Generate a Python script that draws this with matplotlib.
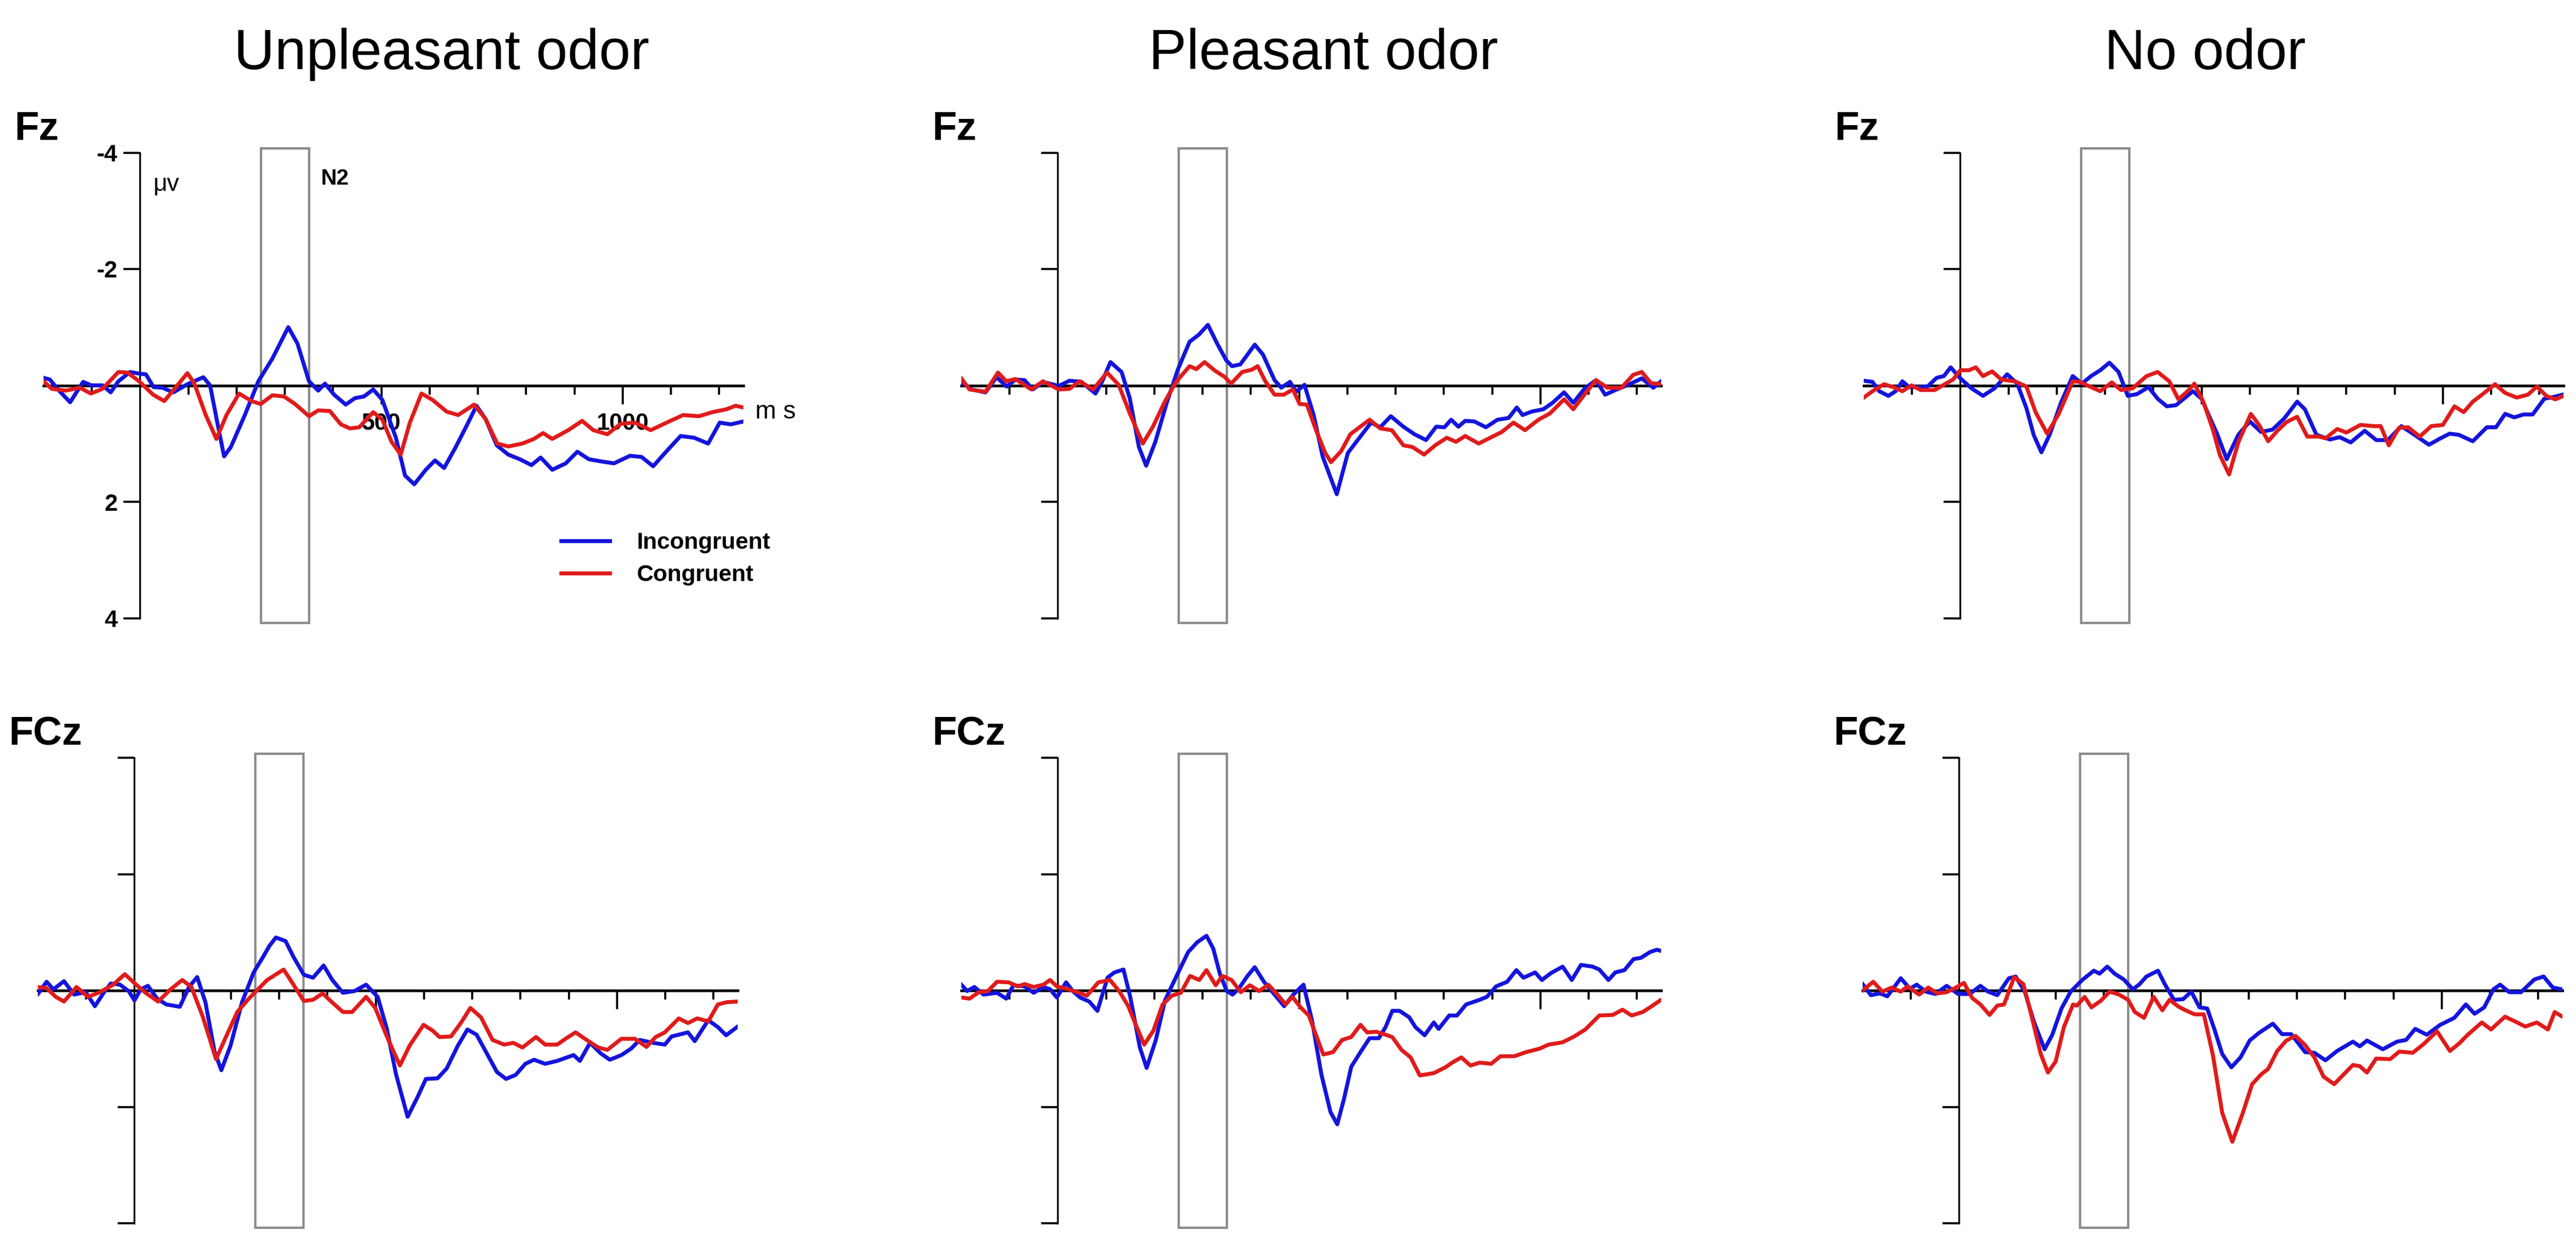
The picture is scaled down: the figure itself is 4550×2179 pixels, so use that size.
# Potentiels évoqués (ERP) Fz / FCz pour trois conditions d'odeur
# Incongruent (bleu) vs Congruent (rouge), fenêtre N2 encadrée.

import numpy as np
import matplotlib.pyplot as plt
from matplotlib.patches import Rectangle

plt.rcParams['font.family'] = ['Liberation Sans', 'DejaVu Sans']

# ---------------------------------------------------------------
# Données : (temps en ms, amplitude en µV)
# ---------------------------------------------------------------
conditions = ['Unpleasant odor', 'Pleasant odor', 'No odor']
electrodes = ['Fz', 'FCz']
series_labels = ['Incongruent', 'Congruent']

fz_unpleasant_inc = [(-200, -0.13), (-187, -0.10), (-168, 0.09), (-145, 0.29), (-132, 0.12), (-118, -0.06),
                     (-101, 0.0), (-78, 0.0), (-61, 0.12), (-45, -0.07), (-21, -0.23), (0, -0.20), (12, -0.19),
                     (28, 0.03), (46, 0.04), (69, 0.12), (98, -0.02), (131, -0.14), (145, 0.0), (160, 0.64),
                     (174, 1.22), (188, 1.06), (217, 0.51), (245, -0.07), (274, -0.46), (307, -1.00),
                     (326, -0.72), (350, -0.07), (369, 0.09), (383, -0.03), (402, 0.16), (426, 0.33),
                     (445, 0.22), (464, 0.19), (483, 0.07), (502, 0.25), (530, 0.90), (549, 1.55), (568, 1.70),
                     (592, 1.45), (611, 1.29), (630, 1.42), (654, 1.06), (678, 0.67), (697, 0.35), (716, 0.58),
                     (739, 1.03), (763, 1.19), (787, 1.27), (811, 1.37), (830, 1.24), (854, 1.45), (882, 1.34),
                     (906, 1.14), (930, 1.27), (958, 1.31), (982, 1.34), (1015, 1.21), (1039, 1.23),
                     (1063, 1.39), (1091, 1.13), (1120, 0.87), (1148, 0.90), (1177, 1.00), (1201, 0.64),
                     (1224, 0.67), (1250, 0.62)]
fz_unpleasant_con = [(-200, -0.07), (-183, 0.06), (-154, 0.09), (-125, 0.04), (-102, 0.14), (-78, 0.06),
                     (-45, -0.23), (-26, -0.22), (-2, -0.07), (27, 0.16), (50, 0.27), (74, 0.03), (98, -0.21),
                     (112, -0.04), (136, 0.51), (158, 0.92), (179, 0.51), (205, 0.14), (231, 0.27), (250, 0.32),
                     (274, 0.17), (298, 0.19), (321, 0.32), (350, 0.53), (369, 0.43), (393, 0.44), (416, 0.67),
                     (435, 0.74), (454, 0.72), (483, 0.46), (502, 0.59), (521, 0.97), (540, 1.19), (559, 0.64),
                     (583, 0.14), (606, 0.25), (635, 0.45), (659, 0.51), (692, 0.33), (716, 0.58), (740, 1.00),
                     (763, 1.05), (792, 1.00), (816, 0.92), (835, 0.82), (854, 0.92), (887, 0.77), (916, 0.61),
                     (939, 0.77), (968, 0.84), (996, 0.66), (1025, 0.64), (1058, 0.77), (1091, 0.64),
                     (1125, 0.51), (1158, 0.53), (1186, 0.46), (1215, 0.41), (1234, 0.35), (1250, 0.38)]

fz_pleasant_inc = [(-200, -0.06), (-179, 0.07), (-150, 0.12), (-127, -0.14), (-106, 0.02), (-88, -0.10),
                   (-69, -0.09), (-52, 0.07), (-31, -0.06), (2, 0.01), (24, -0.08), (49, -0.06), (78, 0.14),
                   (92, -0.07), (109, -0.40), (132, -0.23), (149, 0.22), (168, 1.06), (183, 1.38), (202, 0.97),
                   (226, 0.29), (249, -0.28), (273, -0.75), (292, -0.87), (311, -1.04), (330, -0.72),
                   (349, -0.43), (361, -0.33), (378, -0.36), (408, -0.70), (425, -0.53), (449, -0.09),
                   (463, 0.04), (481, -0.06), (494, 0.11), (511, -0.01), (530, 0.51), (549, 1.23), (578, 1.87),
                   (601, 1.16), (625, 0.90), (649, 0.64), (668, 0.72), (690, 0.53), (716, 0.71), (739, 0.84),
                   (763, 0.94), (784, 0.71), (801, 0.72), (815, 0.59), (830, 0.71), (844, 0.61), (863, 0.62),
                   (887, 0.72), (911, 0.59), (934, 0.56), (951, 0.38), (963, 0.51), (982, 0.45), (1006, 0.41),
                   (1025, 0.30), (1049, 0.12), (1068, 0.30), (1091, 0.06), (1115, -0.09), (1134, 0.16),
                   (1158, 0.07), (1182, -0.01), (1210, -0.12), (1234, 0.04), (1250, -0.07)]
fz_pleasant_con = [(-200, -0.12), (-183, 0.07), (-150, 0.11), (-124, -0.22), (-107, -0.07), (-88, -0.11),
                   (-55, 0.07), (-31, -0.07), (2, 0.07), (24, 0.06), (45, -0.07), (73, 0.07), (102, -0.22),
                   (126, -0.01), (149, 0.48), (176, 1.00), (197, 0.71), (221, 0.29), (245, -0.06), (273, -0.33),
                   (287, -0.28), (304, -0.40), (326, -0.25), (345, -0.15), (359, -0.03), (382, -0.23),
                   (402, -0.27), (414, -0.33), (430, -0.07), (449, 0.16), (468, 0.16), (487, 0.07), (501, 0.32),
                   (516, 0.33), (535, 0.77), (554, 1.16), (566, 1.32), (587, 1.13), (606, 0.84), (625, 0.72),
                   (646, 0.59), (668, 0.74), (692, 0.77), (716, 1.03), (735, 1.06), (759, 1.19), (782, 1.03),
                   (806, 0.90), (825, 0.97), (844, 0.87), (872, 1.00), (896, 0.90), (920, 0.80), (944, 0.64),
                   (968, 0.77), (996, 0.59), (1020, 0.48), (1049, 0.24), (1068, 0.41), (1091, 0.16),
                   (1115, -0.09), (1139, 0.04), (1168, 0.04), (1192, -0.18), (1210, -0.23), (1229, -0.04),
                   (1250, -0.02)]

fz_none_inc = [(-200, -0.08), (-182, -0.06), (-168, 0.10), (-149, 0.18), (-134, 0.10), (-120, -0.07),
               (-106, 0.03), (-87, 0.03), (-68, 0.02), (-49, -0.13), (-34, -0.16), (-20, -0.31), (-1, -0.13),
               (23, 0.05), (47, 0.18), (71, 0.05), (97, -0.19), (118, -0.03), (137, 0.39), (152, 0.85),
               (168, 1.15), (185, 0.85), (209, 0.29), (233, -0.16), (252, -0.03), (271, -0.16), (290, -0.26),
               (309, -0.39), (328, -0.23), (347, 0.18), (366, 0.15), (390, 0.03), (409, 0.23), (428, 0.36),
               (447, 0.34), (466, 0.21), (482, 0.10), (500, 0.23), (519, 0.59), (533, 0.85), (552, 1.27),
               (576, 0.85), (600, 0.62), (623, 0.80), (647, 0.76), (671, 0.57), (698, 0.28), (714, 0.41),
               (738, 0.85), (766, 0.93), (786, 0.89), (809, 0.98), (838, 0.78), (862, 0.94), (886, 0.94),
               (914, 0.70), (943, 0.86), (971, 1.02), (995, 0.91), (1014, 0.83), (1033, 0.85), (1062, 0.96),
               (1091, 0.72), (1110, 0.72), (1129, 0.49), (1148, 0.55), (1167, 0.50), (1186, 0.50),
               (1210, 0.23), (1229, 0.20), (1248, 0.16)]
fz_none_con = [(-200, 0.21), (-182, 0.10), (-158, -0.02), (-139, 0.03), (-120, 0.10), (-101, 0.0), (-82, 0.08),
               (-53, 0.08), (-30, -0.03), (-15, -0.10), (0, -0.26), (18, -0.26), (32, -0.31), (47, -0.16),
               (66, -0.24), (85, -0.10), (113, -0.07), (137, 0.02), (156, 0.46), (180, 0.83), (204, 0.49),
               (233, -0.07), (247, -0.06), (271, 0.03), (290, 0.10), (314, -0.05), (333, 0.08), (357, 0.05),
               (386, -0.16), (409, -0.23), (433, -0.07), (452, 0.24), (471, 0.10), (485, -0.03), (504, 0.29),
               (523, 0.75), (538, 1.20), (557, 1.53), (576, 0.98), (602, 0.49), (619, 0.68), (638, 0.96),
               (657, 0.78), (676, 0.63), (698, 0.54), (719, 0.88), (743, 0.88), (757, 0.91), (781, 0.75),
               (800, 0.81), (829, 0.68), (857, 0.70), (871, 0.70), (888, 1.03), (909, 0.73), (928, 0.72),
               (952, 0.88), (976, 0.70), (1000, 0.68), (1024, 0.36), (1043, 0.46), (1062, 0.28), (1081, 0.16),
               (1108, -0.02), (1129, 0.13), (1153, 0.21), (1176, 0.16), (1195, 0.02), (1214, 0.18),
               (1233, 0.24), (1250, 0.18)]

fcz_unpleasant_inc = [(-200, 0.06), (-182, -0.15), (-168, -0.02), (-146, -0.16), (-125, 0.07), (-101, 0.03),
                      (-82, 0.27), (-63, 0.03), (-49, -0.12), (-30, -0.10), (-12, 0.01), (0, 0.17), (13, -0.02),
                      (28, -0.08), (47, 0.14), (66, 0.24), (94, 0.28), (113, -0.06), (130, -0.23), (147, 0.20),
                      (166, 1.05), (180, 1.37), (199, 0.95), (223, 0.20), (247, -0.31), (266, -0.57),
                      (280, -0.77), (293, -0.91), (313, -0.85), (330, -0.57), (351, -0.27), (370, -0.22),
                      (392, -0.43), (410, -0.18), (432, 0.04), (456, 0.01), (480, -0.10), (504, 0.11),
                      (523, 0.66), (542, 1.44), (566, 2.17), (585, 1.86), (604, 1.52), (628, 1.51), (647, 1.34),
                      (670, 0.95), (690, 0.67), (709, 0.76), (732, 1.11), (751, 1.40), (770, 1.52), (790, 1.45),
                      (810, 1.26), (828, 1.19), (851, 1.26), (876, 1.21), (910, 1.11), (923, 1.21), (944, 0.90),
                      (966, 1.08), (985, 1.19), (1009, 1.11), (1029, 1.00), (1047, 0.85), (1075, 0.90),
                      (1099, 0.93), (1113, 0.79), (1147, 0.72), (1161, 0.87), (1189, 0.51), (1209, 0.63),
                      (1226, 0.77), (1250, 0.62)]
fcz_unpleasant_con = [(-200, -0.06), (-182, -0.04), (-163, 0.11), (-146, 0.19), (-120, -0.06), (-96, 0.11),
                      (-72, 0.03), (-44, -0.10), (-20, -0.28), (1, -0.12), (23, 0.04), (49, 0.19), (75, -0.02),
                      (99, -0.18), (118, -0.06), (142, 0.46), (169, 1.18), (190, 0.79), (213, 0.37), (237, 0.14),
                      (256, -0.02), (275, -0.18), (294, -0.28), (309, -0.36), (328, -0.12), (351, 0.18),
                      (370, 0.16), (390, 0.05), (409, 0.20), (432, 0.37), (451, 0.37), (480, 0.11), (499, 0.30),
                      (523, 0.79), (550, 1.29), (570, 0.95), (599, 0.59), (618, 0.69), (632, 0.80), (656, 0.79),
                      (677, 0.55), (696, 0.30), (718, 0.46), (742, 0.85), (766, 0.93), (785, 0.90), (804, 0.98),
                      (832, 0.80), (851, 0.93), (876, 0.93), (895, 0.82), (914, 0.72), (937, 0.85), (961, 0.98),
                      (980, 1.02), (1009, 0.83), (1037, 0.83), (1061, 0.97), (1080, 0.80), (1099, 0.72),
                      (1128, 0.48), (1147, 0.56), (1166, 0.48), (1189, 0.53), (1209, 0.24), (1228, 0.20),
                      (1250, 0.19)]

fcz_pleasant_inc = [(-200, -0.10), (-188, 0.01), (-173, -0.06), (-154, 0.07), (-126, 0.04), (-107, 0.14),
                    (-92, -0.09), (-69, -0.07), (-50, 0.04), (-30, -0.06), (-16, -0.02), (-2, 0.12), (17, -0.14),
                    (31, 0.01), (46, 0.12), (65, 0.19), (82, 0.35), (103, -0.22), (117, -0.31), (136, -0.36),
                    (150, 0.11), (170, 0.98), (184, 1.33), (203, 0.85), (222, 0.17), (246, -0.25), (270, -0.66),
                    (289, -0.83), (308, -0.94), (322, -0.72), (336, -0.28), (350, 0.01), (362, 0.07),
                    (374, -0.02), (393, -0.25), (408, -0.40), (427, -0.15), (446, 0.04), (469, 0.27),
                    (488, 0.07), (509, -0.10), (527, 0.53), (546, 1.44), (565, 2.09), (579, 2.30), (593, 1.86),
                    (608, 1.31), (627, 1.06), (646, 0.82), (665, 0.82), (679, 0.63), (693, 0.35), (708, 0.35),
                    (728, 0.46), (741, 0.63), (760, 0.77), (779, 0.55), (789, 0.66), (811, 0.43), (827, 0.43),
                    (846, 0.24), (874, 0.16), (889, 0.11), (908, -0.07), (931, -0.15), (950, -0.35),
                    (965, -0.22), (989, -0.31), (1003, -0.18), (1022, -0.30), (1046, -0.41), (1065, -0.18),
                    (1084, -0.44), (1108, -0.41), (1122, -0.36), (1141, -0.18), (1155, -0.31), (1174, -0.35),
                    (1193, -0.54), (1208, -0.56), (1227, -0.66), (1241, -0.70), (1250, -0.68)]
fcz_pleasant_con = [(-200, 0.12), (-183, 0.14), (-164, 0.03), (-145, 0.01), (-126, -0.15), (-102, -0.14),
                    (-83, -0.07), (-69, -0.11), (-50, -0.06), (-30, -0.10), (-16, -0.18), (-2, -0.07),
                    (22, -0.02), (41, 0.03), (60, 0.09), (84, -0.14), (108, -0.18), (127, 0.01), (146, 0.27),
                    (160, 0.56), (179, 0.93), (198, 0.69), (217, 0.24), (236, 0.09), (255, 0.04), (274, -0.25),
                    (293, -0.18), (308, -0.35), (327, -0.09), (341, -0.25), (360, -0.18), (379, 0.03),
                    (398, -0.09), (417, 0.01), (436, -0.10), (455, 0.07), (472, 0.24), (486, 0.11), (503, 0.29),
                    (520, 0.43), (536, 0.79), (550, 1.10), (570, 1.06), (589, 0.85), (608, 0.80), (627, 0.59),
                    (641, 0.72), (660, 0.71), (679, 0.76), (693, 0.80), (712, 1.02), (731, 1.15), (750, 1.46),
                    (779, 1.42), (803, 1.32), (817, 1.24), (836, 1.15), (855, 1.29), (874, 1.24), (898, 1.26),
                    (917, 1.13), (946, 1.13), (970, 1.06), (998, 1.00), (1017, 0.93), (1046, 0.89),
                    (1070, 0.79), (1093, 0.67), (1122, 0.43), (1150, 0.42), (1170, 0.33), (1189, 0.43),
                    (1212, 0.37), (1227, 0.29), (1250, 0.16)]

fcz_none_inc = [(-200, -0.11), (-183, 0.08), (-164, 0.05), (-149, 0.10), (-121, -0.21), (-102, -0.03),
                (-88, -0.10), (-69, 0.02), (-49, 0.06), (-26, -0.08), (-2, 0.06), (22, 0.06), (44, -0.08),
                (60, 0.02), (79, 0.08), (103, -0.21), (117, -0.24), (136, 0.02), (155, 0.54), (177, 1.01),
                (193, 0.76), (212, 0.31), (231, 0.02), (255, -0.18), (279, -0.34), (291, -0.29), (307, -0.41),
                (322, -0.29), (341, -0.19), (360, -0.02), (374, -0.11), (388, -0.24), (412, -0.34),
                (426, -0.11), (445, 0.16), (464, 0.15), (481, 0.02), (498, 0.29), (514, 0.31), (529, 0.67),
                (545, 1.09), (564, 1.32), (583, 1.15), (602, 0.86), (621, 0.73), (650, 0.57), (669, 0.75),
                (688, 0.75), (717, 1.06), (736, 1.07), (759, 1.20), (783, 1.04), (816, 0.88), (830, 0.96),
                (845, 0.86), (878, 1.01), (907, 0.88), (926, 0.85), (945, 0.66), (969, 0.76), (997, 0.59),
                (1026, 0.47), (1050, 0.24), (1068, 0.40), (1088, 0.29), (1107, -0.02), (1121, -0.10),
                (1140, 0.03), (1164, 0.03), (1192, -0.19), (1211, -0.24), (1230, -0.05), (1249, -0.02)]
fcz_none_con = [(-200, 0.0), (-178, -0.15), (-159, 0.02), (-140, -0.05), (-121, 0.02), (-107, -0.07),
                (-83, 0.07), (-64, -0.05), (-45, 0.05), (-26, 0.03), (-7, -0.05), (10, -0.13), (27, 0.13),
                (44, 0.24), (63, 0.42), (79, 0.26), (93, 0.24), (114, -0.23), (133, -0.11), (150, 0.44),
                (169, 1.09), (184, 1.41), (200, 1.22), (217, 0.63), (236, 0.24), (244, 0.26), (260, 0.11),
                (274, 0.29), (293, 0.18), (312, 0.02), (331, 0.07), (350, 0.16), (364, 0.37), (383, 0.47),
                (403, 0.11), (421, 0.34), (436, 0.16), (455, 0.28), (469, 0.34), (488, 0.41), (507, 0.41),
                (526, 1.12), (545, 2.10), (566, 2.60), (588, 2.10), (607, 1.61), (626, 1.44), (640, 1.35),
                (659, 1.04), (678, 0.86), (697, 0.78), (717, 0.94), (736, 1.15), (755, 1.48), (777, 1.61),
                (797, 1.44), (816, 1.28), (830, 1.30), (845, 1.41), (864, 1.17), (893, 1.18), (912, 1.05),
                (940, 1.07), (964, 0.91), (990, 0.70), (1017, 1.04), (1036, 0.91), (1054, 0.76), (1083, 0.55),
                (1102, 0.67), (1131, 0.45), (1154, 0.54), (1173, 0.62), (1197, 0.55), (1220, 0.67),
                (1234, 0.37), (1250, 0.45)]

# grille des panneaux : [électrode][condition] -> (incongruent, congruent)
panels = [
    [(fz_unpleasant_inc, fz_unpleasant_con), (fz_pleasant_inc, fz_pleasant_con), (fz_none_inc, fz_none_con)],
    [(fcz_unpleasant_inc, fcz_unpleasant_con), (fcz_pleasant_inc, fcz_pleasant_con), (fcz_none_inc, fcz_none_con)],
]

n2_window = (250, 350)          # fenêtre N2 en ms
y_ticks = [-4, -2, 2, 4]
x_major = [500, 1000]
x_minor = [-100, 100, 200, 300, 400, 600, 700, 800, 900, 1100, 1200]

# ---------------------------------------------------------------
# Mise en page (pixels de l'image finale)
# ---------------------------------------------------------------
W, H = 4550, 2179
BLEU = '#1414DC'
ROUGE = '#E01B1B'
GRIS = '#8C8C8C'

panel_w, panel_h = 1236, 822
panel_left = [[77, 1698, 3292], [67, 1698, 3290]]
panel_top = [269.5, 1338]
title_center = [780, 2338, 3895]


def rect_px(left, top, w, h):
    return [left / W, 1 - (top + h) / H, w / W, h / H]


fig = plt.figure(figsize=(W / 100, H / 100), dpi=100)

for c, titre in enumerate(conditions):
    fig.text(title_center[c] / W, 1 - 122 / H, titre, ha='center', va='baseline', fontsize=72)

for r, elec in enumerate(electrodes):
    for c in range(3):
        ax = fig.add_axes(rect_px(panel_left[r][c], panel_top[r], panel_w, panel_h))
        ax.set_xlim(-200, 1250)
        ax.set_ylim(4, -4)          # négatif en haut (convention ERP)
        ax.set_axisbelow(True)
        ax.patch.set_visible(False)

        # axes en croix
        for s in ['top', 'right']:
            ax.spines[s].set_visible(False)
        ax.spines['left'].set_position(('data', 0))
        ax.spines['left'].set_bounds(-4, 4)
        ax.spines['left'].set_linewidth(2.3)
        ax.spines['bottom'].set_position(('data', 0))
        ax.spines['bottom'].set_linewidth(3.4)

        ax.set_yticks(y_ticks)
        ax.set_xticks(x_major)
        ax.set_xticks(x_minor, minor=True)
        ax.tick_params(axis='y', direction='out', length=21, width=2.6, pad=8)
        ax.tick_params(axis='x', which='major', direction='out', length=24, width=2.6, pad=10)
        ax.tick_params(axis='x', which='minor', direction='out', length=11.5, width=2.6)

        premier = (r == 0 and c == 0)
        if premier:
            ax.set_yticklabels([str(v) for v in y_ticks], fontsize=30, fontweight='bold')
            ax.set_xticklabels([str(v) for v in x_major], fontsize=30, fontweight='bold')
        else:
            ax.set_yticklabels([])
            ax.set_xticklabels([])

        # fenêtre N2
        ax.add_patch(Rectangle((n2_window[0], -4.07), n2_window[1] - n2_window[0], 8.15,
                               fill=False, edgecolor=GRIS, linewidth=3.0, clip_on=False, zorder=1.5))

        # courbes
        inc, con = panels[r][c]
        t_i, v_i = np.array(inc).T
        t_c, v_c = np.array(con).T
        ax.plot(t_i, v_i, color=BLEU, linewidth=5.0, label=series_labels[0], zorder=3)
        ax.plot(t_c, v_c, color=ROUGE, linewidth=5.0, label=series_labels[1], zorder=3)

        # nom de l'électrode
        axe_x = panel_left[r][c] + 170.5
        base = 247 if r == 0 else 1315
        fig.text((axe_x - 222) / W, 1 - base / H, elec, ha='left', va='baseline',
                 fontsize=51, fontweight='bold')

        if premier:
            ax.text(27, -3.45, 'μv', fontsize=31, ha='left', va='center')
            ax.text(374, -3.55, 'N2', fontsize=28, fontweight='bold', ha='left', va='center')
            ax.text(1275, 0.46, 'm s', fontsize=32, ha='left', va='center', clip_on=False)
            ax.legend(loc='upper left', bbox_to_anchor=(872, 2.52), bbox_transform=ax.transData,
                      frameon=False, borderpad=0, borderaxespad=0, handlelength=2.1,
                      handletextpad=1.15, labelspacing=0.45,
                      prop={'size': 29.5, 'weight': 'bold'})

fig.savefig('out.png', dpi=100)
